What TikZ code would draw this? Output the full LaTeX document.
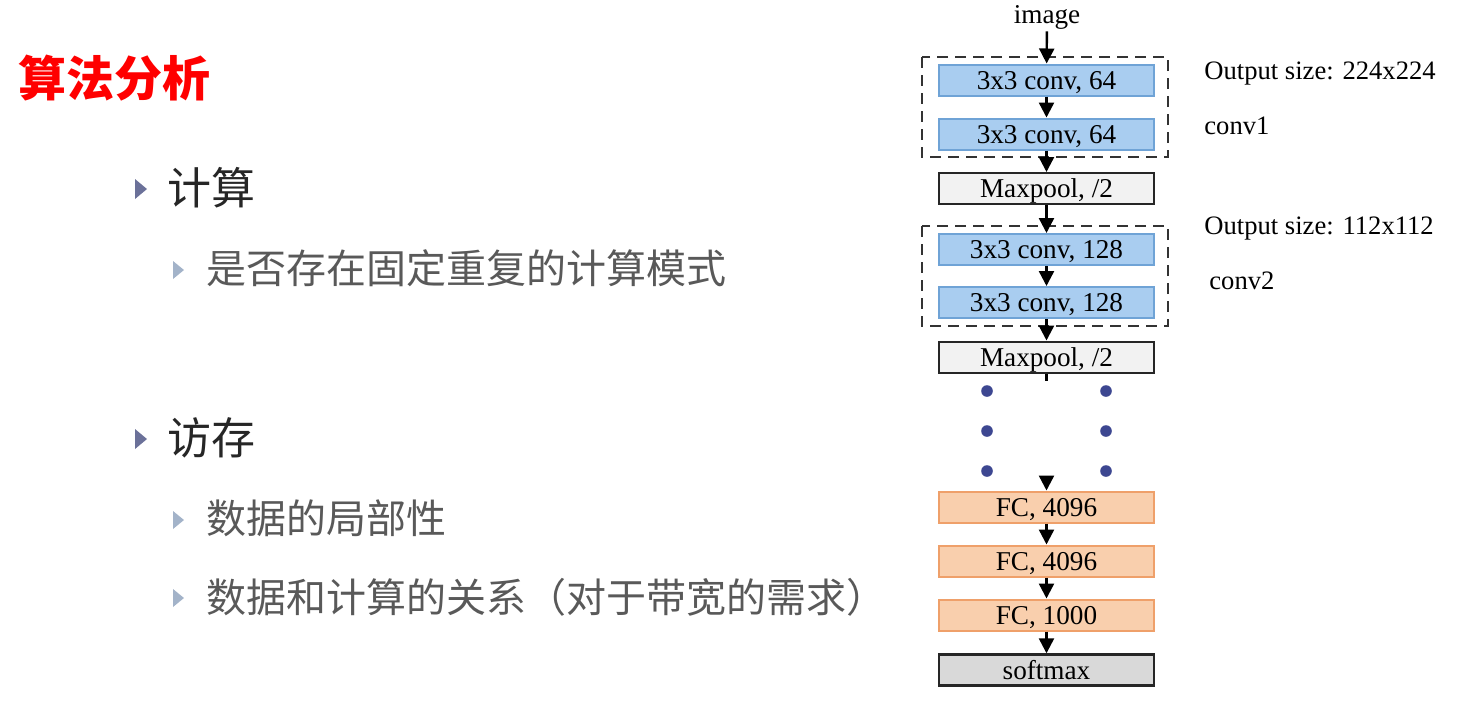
\documentclass[tikz,border=0pt]{standalone}
\usepackage{fontspec}
\setmainfont{Liberation Serif}
\newfontfamily\cjk{Noto Sans CJK SC}
\usetikzlibrary{arrows.meta}
\definecolor{convfill}{HTML}{A9CDF0}
\definecolor{convdraw}{HTML}{6FA3D6}
\definecolor{fcfill}{HTML}{F9CFAD}
\definecolor{fcdraw}{HTML}{EFA06A}
\definecolor{poolfill}{HTML}{F2F2F2}
\definecolor{softfill}{HTML}{D9D9D9}
\definecolor{dotc}{HTML}{3D4791}
\definecolor{bulA}{HTML}{6B7199}
\definecolor{bulB}{HTML}{A3B3C9}
\definecolor{txtA}{HTML}{262626}
\definecolor{txtB}{HTML}{595959}
\tikzset{
  layer/.style={minimum width=107.5pt, minimum height=15.5pt, inner sep=0pt, line width=1pt,
    text height=9.2pt, text depth=0pt, font=\fontsize{13.6}{15}\selectfont},
  convbox/.style={layer, draw=convdraw, fill=convfill},
  fcbox/.style={layer, draw=fcdraw, fill=fcfill},
  poolbox/.style={layer, draw=black!85, fill=poolfill},
  softbox/.style={layer, draw=black!85, fill=softfill, line width=1.2pt},
  arr/.style={line width=1.2pt, -{Triangle[width=7.5pt,length=7.5pt]}},
  plainline/.style={line width=1.2pt},
  groupbox/.style={draw=black!80, line width=1pt, dash pattern=on 5.5pt off 3.5pt},
  sidelabel/.style={anchor=west, inner sep=0pt, font=\fontsize{13.3}{15}\selectfont},
  lvlA/.style={anchor=west, inner sep=0pt, text=txtA, font=\cjk\fontsize{22}{26}\selectfont},
  lvlB/.style={anchor=west, inner sep=0pt, text=txtB, font=\cjk\fontsize{20}{24}\selectfont},
}
\begin{document}
\begin{tikzpicture}[x=0.5pt,y=-0.5pt]
\useasboundingbox (0,0) rectangle (1474,702);
% title
\node[anchor=west, inner sep=0pt, text=red, font=\cjk\bfseries\fontsize{24}{28}\selectfont] (title) at (18,78) {算法分析};
% bullets
\fill[bulA] (135,179) -- (147,189) -- (135,199) -- cycle;
\node[lvlA] (t1) at (167,188) {计算};
\fill[bulB] (173,261) -- (184,270) -- (173,279) -- cycle;
\node[lvlB] (t2) at (206,268) {是否存在固定重复的计算模式};
\fill[bulA] (135,429) -- (147,439) -- (135,449) -- cycle;
\node[lvlA] (t3) at (167,438) {访存};
\fill[bulB] (173,511) -- (184,520) -- (173,529) -- cycle;
\node[lvlB] (t4) at (206,518) {数据的局部性};
\fill[bulB] (173,589) -- (184,598) -- (173,607) -- cycle;
\node[lvlB] (t5) at (206,597) {数据和计算的关系（对于带宽的需求）};
% network
\node[inner sep=1pt, font=\fontsize{13.6}{15}\selectfont] (img) at (1047,17) {image};
\draw[groupbox] (922,57) rectangle (1168,157);
\draw[groupbox] (922,226) rectangle (1168,326);
\node[convbox] (c1a) at (1046.5,80) {3x3 conv, 64};
\node[convbox] (c1b) at (1046.5,134) {3x3 conv, 64};
\node[poolbox] (mp1) at (1046.5,188.5) {Maxpool, /2};
\node[convbox] (c2a) at (1046.5,249.5) {3x3 conv, 128};
\node[convbox] (c2b) at (1046.5,302.5) {3x3 conv, 128};
\node[poolbox] (mp2) at (1046.5,357) {Maxpool, /2};
\node[fcbox] (fc1) at (1046.5,507) {FC, 4096};
\node[fcbox] (fc2) at (1046.5,561) {FC, 4096};
\node[fcbox] (fc3) at (1046.5,615) {FC, 1000};
\node[softbox] (sm) at (1046.5,670) {softmax};
\coordinate (stub) at (1046.5,381);
\coordinate (fcin) at (1046.5,477);
\draw[arr] (img) -- (c1a);
\draw[arr] (c1a) -- (c1b);
\draw[arr] (c1b) -- (mp1);
\draw[arr] (mp1) -- (c2a);
\draw[arr] (c2a) -- (c2b);
\draw[arr] (c2b) -- (mp2);
\draw[plainline] (mp2) -- (stub);
\draw[arr] (fcin) -- (fc1);
\draw[arr] (fc1) -- (fc2);
\draw[arr] (fc2) -- (fc3);
\draw[arr] (fc3) -- (sm);
% dots
\foreach \yy in {391,431,471} {
  \fill[dotc] (987,\yy) circle (2.9pt);
  \fill[dotc] (1106,\yy) circle (2.9pt);
}
% side labels
\node[sidelabel] (o1) at (1204,74) {Output size: 224x224};
\node[sidelabel] (n1) at (1204,126) {conv1};
\node[sidelabel] (o2) at (1204,229) {Output size: 112x112};
\node[sidelabel] (n2) at (1209,281) {conv2};
\end{tikzpicture}
\end{document}
